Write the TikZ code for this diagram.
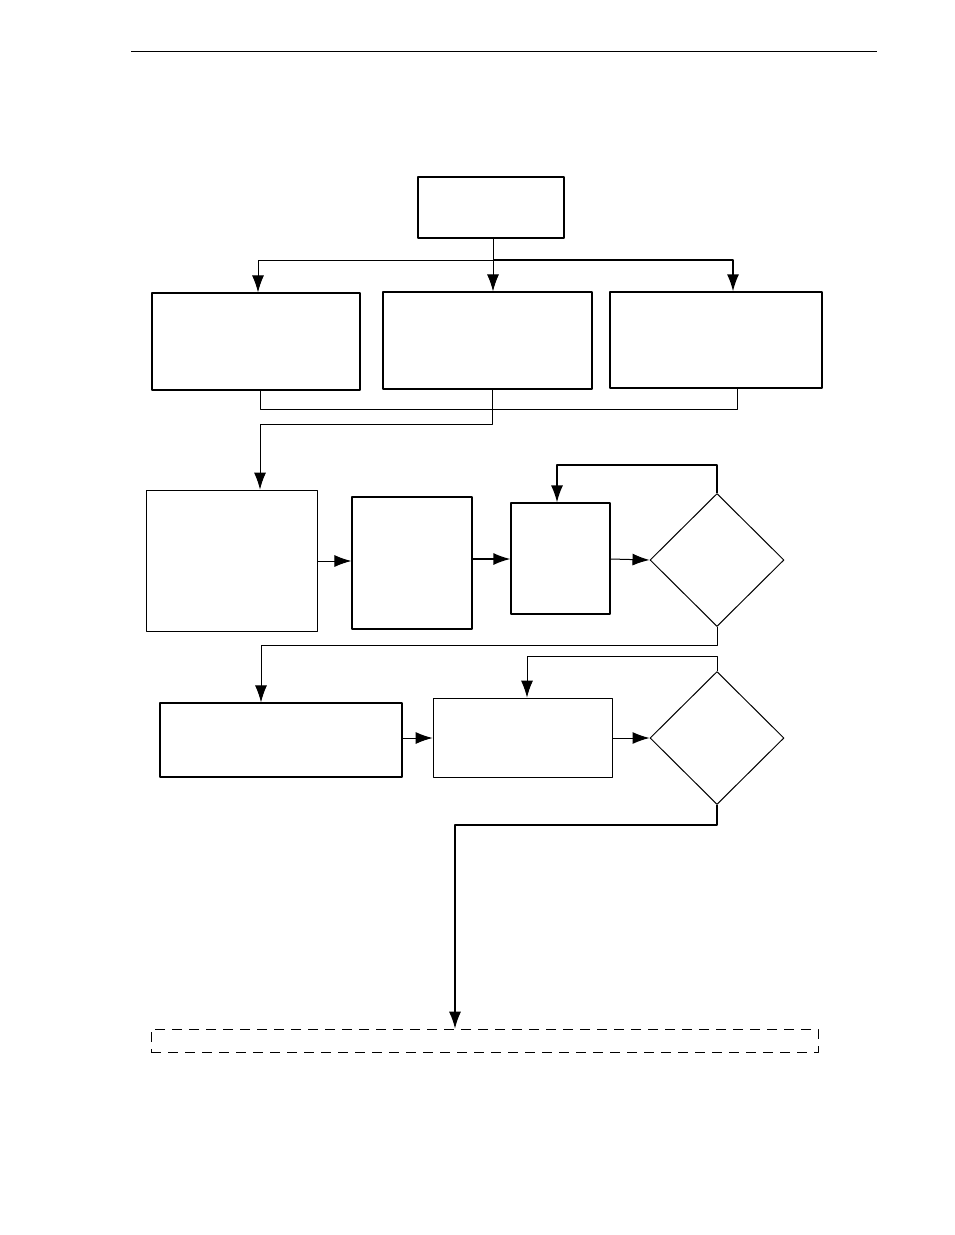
\documentclass[tikz,border=0pt]{standalone}
\usetikzlibrary{arrows.meta,shapes.geometric}
\tikzset{
  box/.style={draw,line width=1.2pt,inner sep=0pt},
  dec/.style={draw,diamond,line width=1pt,inner sep=0pt,minimum width=134pt,minimum height=133pt},
  flow/.style={line width=1pt,->},
}
\begin{document}
\begin{tikzpicture}[x=1pt,y=-1pt,line join=round,>={Latex[length=17pt,width=12pt]}]
\useasboundingbox (0,0) rectangle (954,1235);
\draw[line width=0.6pt] (131,51)--(877,51);

\node[box,minimum width=146pt,minimum height=61pt] (top) at (491,207.5) {};
\node[box,minimum width=208pt,minimum height=97pt] (b1) at (256,341.5) {};
\node[box,minimum width=209pt,minimum height=97pt] (b2) at (487.5,340.5) {};
\node[box,minimum width=212pt,minimum height=96pt] (b3) at (716,340) {};

\node[box,line width=0.8pt,minimum width=171pt,minimum height=141pt] (c1) at (231.5,560.5) {};
\node[box,minimum width=120pt,minimum height=132pt] (c2) at (412,563) {};
\node[box,minimum width=99pt,minimum height=111pt] (c3) at (560.5,558.5) {};
\node[dec] (d1) at (717,560) {};

\node[box,minimum width=242pt,minimum height=74pt] (e1) at (281,740) {};
\node[box,line width=0.8pt,minimum width=179pt,minimum height=79pt] (e2) at (522.5,737.5) {};
\node[dec] (d2) at (717,738) {};

\node[draw,dash pattern=on 10pt off 7pt,line width=0.6pt,minimum width=667pt,minimum height=23pt,inner sep=0pt] (end) at (484.5,1040.5) {};

% fan out
\coordinate (s) at (493,260);
\draw[line width=1pt] (top.south -| s) -- (s);
\draw[flow] (s) -- (258,260) -- (b1.north -| 258,0);
\draw[flow] (s) -- (b2.north -| s);
\draw[flow,line width=1.6pt] (s) -- (733,260) -- (b3.north -| 733,0);

% merge
\draw[line width=1pt] (b1.south -| 260,0) -- (260,409) -- (737,409) -- (b3.south -| 737,0);
\draw[flow] (b2.south -| 492,0) -- (492,424) -- (260,424) -- (c1.north -| 260,0);

% row one
\draw[flow] (c1.east |- 0,561) -- (c2.west |- 0,561);
\draw[flow,line width=1.4pt] (c2.east |- 0,559) -- (c3.west |- 0,559);
\draw[flow] (c3.east |- 0,559) -- (d1.west);
\draw[flow,line width=1.4pt] (d1.north) -- (717,465) -- (557,465) -- (c3.north -| 557,0);
\draw[flow] (d1.south) -- (717,645) -- (261,645) -- (e1.north -| 261,0);

% row two
\draw[flow] (e1.east |- 0,738) -- (e2.west |- 0,738);
\draw[flow] (e2.east |- 0,738) -- (d2.west);
\draw[flow] (d2.north) -- (717,656) -- (527,656) -- (e2.north -| 527,0);
\draw[flow,line width=1.4pt] (d2.south) -- (717,825) -- (455,825) -- (end.north -| 455,0);
\end{tikzpicture}
\end{document}
